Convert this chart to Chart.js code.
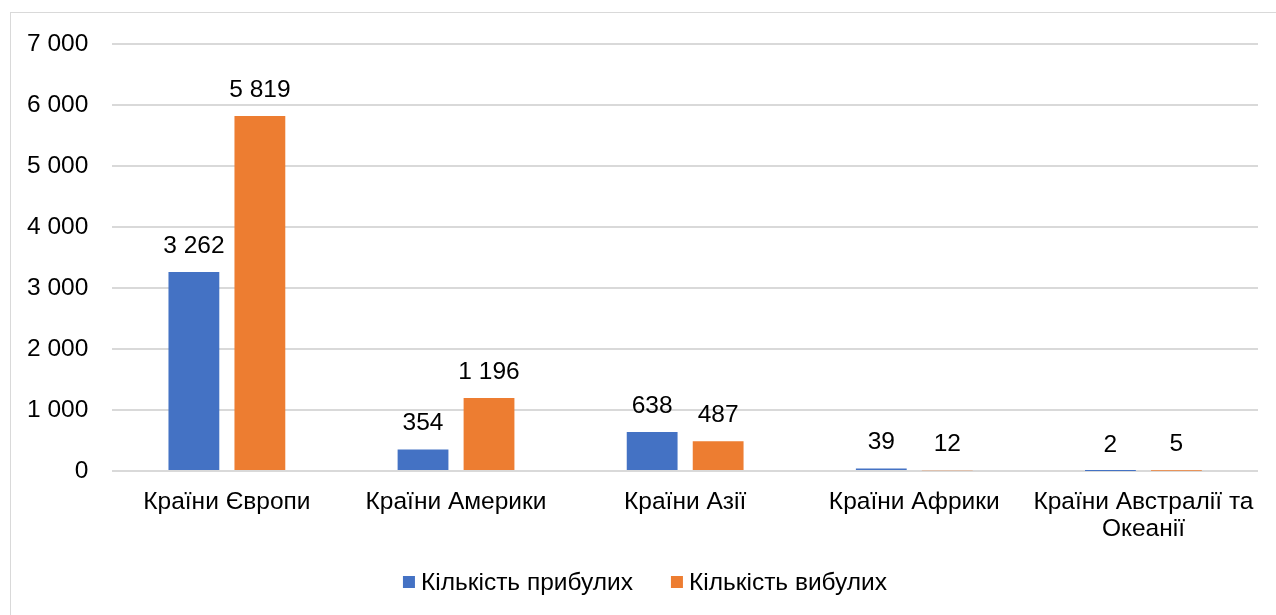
<!DOCTYPE html>
<html>
<head>
<meta charset="utf-8">
<script src="https://cdn.jsdelivr.net/npm/chart.js@4"></script>
<style>
  html, body { margin: 0; padding: 0; background: #fff; overflow: hidden; }
  #wrap { position: absolute; left: 0; top: 0; width: 1276px; height: 615px; }
  #frame { position: absolute; left: 10px; top: 12px; width: 1290px; height: 700px; border: 1px solid #d9d9d9; pointer-events: none; }
</style>
</head>
<body>
<div id="wrap"><canvas id="regionChart"></canvas></div>
<div id="frame"></div>
<script>
// data
const categories = [
    'Країни Європи',
    'Країни Америки',
    'Країни Азії',
    'Країни Африки',
    ['Країни Австралії та', 'Океанії']
];
const arrivedLabel = 'Кількість прибулих';
const departedLabel = 'Кількість вибулих';
const arrived = [3262, 354, 638, 39, 2];
const departed = [5819, 1196, 487, 12, 5];
const yTicks = [0, 1000, 2000, 3000, 4000, 5000, 6000, 7000];

const FONT = 'Liberation Sans, Arial, sans-serif';
const FSIZE = 24.5;

// 5819 -> "5 819"
function spaced(v) {
    return String(v).replace(/\B(?=(\d{3})+(?!\d))/g, ' ');
}

// value labels above the bars
const barLabels = {
    id: 'barLabels',
    afterDatasetsDraw(chart) {
        const ctx = chart.ctx;
        ctx.save();
        ctx.font = FSIZE + 'px ' + FONT;
        ctx.fillStyle = '#000';
        ctx.textAlign = 'center';
        ctx.textBaseline = 'middle';
        chart.data.datasets.forEach(function(ds, i) {
            chart.getDatasetMeta(i).data.forEach(function(bar, j) {
                ctx.fillText(spaced(ds.data[j]), bar.x, bar.y - 26);
            });
        });
        ctx.restore();
    }
};

// excel-like legend at the bottom (small gap between square and text)
const bottomLegend = {
    id: 'bottomLegend',
    afterDraw(chart) {
        const ctx = chart.ctx;
        const sets = chart.data.datasets;
        const box = 12, gap = 6, between = 38;
        const centerX = 645, centerY = 582;
        ctx.save();
        ctx.font = FSIZE + 'px ' + FONT;
        ctx.textBaseline = 'middle';
        ctx.textAlign = 'left';
        let total = 0;
        sets.forEach(function(ds, i) {
            total += box + gap + ctx.measureText(ds.label).width;
            if (i > 0) total += between;
        });
        let x = centerX - total / 2;
        sets.forEach(function(ds) {
            ctx.fillStyle = ds.backgroundColor;
            ctx.fillRect(x, centerY - box / 2, box, box);
            x += box + gap;
            ctx.fillStyle = '#000';
            ctx.fillText(ds.label, x, centerY + 1);
            x += ctx.measureText(ds.label).width + between;
        });
        ctx.restore();
    }
};

const ctx = document.getElementById('regionChart').getContext('2d');
const regionChart = new Chart(ctx, {
    type: 'bar',
    data: {
        labels: categories,
        datasets: [{
            label: arrivedLabel,
            data: arrived,
            backgroundColor: '#4472C4',
            categoryPercentage: 0.576,
            barPercentage: 0.77
        }, {
            label: departedLabel,
            data: departed,
            backgroundColor: '#ED7D31',
            categoryPercentage: 0.576,
            barPercentage: 0.77
        }]
    },
    options: {
        responsive: true,
        maintainAspectRatio: false,
        animation: false,
        layout: {
            padding: { top: 44, right: 18, bottom: 57, left: 3 }
        },
        plugins: {
            legend: { display: false },
            tooltip: { enabled: false }
        },
        scales: {
            y: {
                min: 0,
                max: 7000,
                afterBuildTicks: function(scale) {
                    scale.ticks = yTicks.map(function(v) { return { value: v }; });
                },
                border: { display: false },
                grid: { color: '#d9d9d9', lineWidth: 2, drawTicks: false },
                ticks: {
                    padding: 24,
                    color: '#000',
                    font: { family: FONT, size: FSIZE },
                    callback: function(v) { return spaced(v); }
                }
            },
            x: {
                border: { display: false },
                grid: { display: false, drawTicks: false },
                afterFit: function(scale) {
                    scale.height = 87;
                },
                ticks: {
                    padding: 18,
                    color: '#000',
                    maxRotation: 0,
                    autoSkip: false,
                    font: { family: FONT, size: FSIZE, lineHeight: 1.1 }
                }
            }
        }
    },
    plugins: [barLabels, bottomLegend]
});
</script>
</body>
</html>
